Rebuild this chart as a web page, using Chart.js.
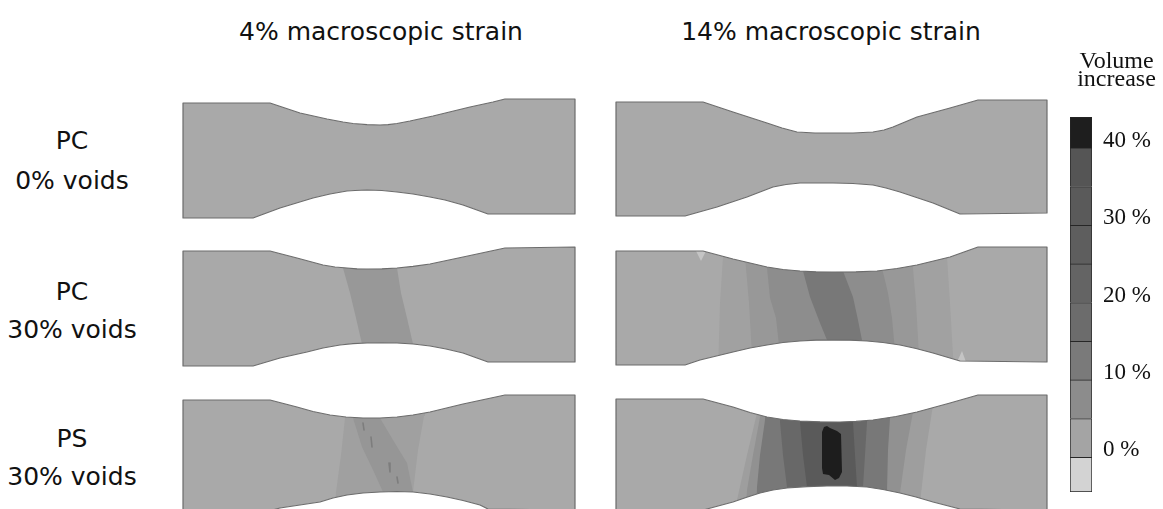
<!DOCTYPE html>
<html>
<head>
<meta charset="utf-8">
<script src="https://cdn.jsdelivr.net/npm/chart.js@4.4.1/dist/chart.umd.min.js"></script>
<style>
  html, body { margin: 0; padding: 0; background: #fff; overflow: hidden; }
  #fig { position: relative; width: 1163px; height: 509px; overflow: hidden; background: #fff; }
  #fig canvas { position: absolute; }
  .lbl { position: absolute; font-family: "DejaVu Sans", sans-serif; font-size: 25px; line-height: 25px;
         color: #111; white-space: nowrap; text-align: center; }
</style>
</head>
<body>
<div id="fig"></div>
<script>
// ---- headings ----
const columnTitles = ['4% macroscopic strain', '14% macroscopic strain'];
const rowMaterials = ['PC', 'PC', 'PS'];
const rowPorosity  = ['0% voids', '30% voids', '30% voids'];

// ---- volume-increase colour scale (%) ----
const scaleEdges  = [-4.5, 0, 5, 10, 15, 20, 25, 30, 35, 40, 44];
const scaleTicks  = [0, 10, 20, 30, 40];
const scaleTitle  = ['Volume', 'increase'];

// ---- specimen outlines (mesh units along / across the bar) ----
// PC, 0% voids
const pc0Strain4Top     = [[0,8],[87,8],[117,18],[144,24],[160,27],[170,28.5],[184,29.7],[197,30],[205,29.6],[214,28.5],[227,26],[250,21],[287,12],[310,7],[322,4],[392,4]];
const pc0Strain4Bottom  = [[392,119],[305,119],[280,110],[262,105],[247,102],[230,99],[214,97],[199,95.5],[184,95],[172,95.5],[164,96],[147,99],[130,103],[97,113],[70,123],[0,123]];
const pc0Strain14Top    = [[0,7],[87,7],[117,17],[151,28],[166,33],[181,37],[199,38],[217,38],[237,38],[257,37],[268,35],[277,32],[301,22],[334,13],[362,5],[431,5]];
const pc0Strain14Bottom = [[431,118],[344,119],[317,108],[284,97],[270,93],[257,90],[237,88.5],[217,88],[200,88],[184,88],[170,89.5],[157,92],[131,102],[101,112],[69,121],[0,121]];
// PC, 30% voids
const pc30Strain4Top     = [[0,8],[87,8],[114,15],[140,22],[152,24],[164,25],[174,25.8],[184,26],[199,25.8],[214,25],[230,23.3],[247,21],[280,14],[322,5],[392,4]];
const pc30Strain4Bottom  = [[392,119],[305,119],[280,110],[263,106],[247,103],[230,101],[214,100],[199,99.8],[184,100],[170,100.6],[157,102],[140,105],[124,109],[97,115],[70,123],[0,123]];
const pc30Strain14Top    = [[0,8],[87,8],[117,16],[134,20],[151,24],[167,26.5],[184,28],[200,28.8],[217,29],[240,28.8],[261,28],[281,25.5],[301,22],[334,14],[362,4],[431,4]];
const pc30Strain14Bottom = [[431,119],[344,118],[317,110],[300,105.5],[284,102],[267,99.5],[251,98],[234,97.2],[217,97],[200,97.2],[184,98],[167,99.5],[151,102],[134,105],[117,109],[84,117],[69,122],[0,122]];
// PS, 30% voids
const ps30Strain4Top     = [[0,10],[87,10],[114,17],[130,21.5],[147,25],[163,27],[180,28],[197,28],[214,27],[230,25],[247,22],[280,14],[322,5],[392,5]];
const ps30Strain4Bottom  = [[392,120],[305,119],[297,115],[280,110.5],[264,107],[247,104],[230,102],[214,101.5],[197,102],[180,103],[164,105],[150,108],[137,112],[97,118],[70,125],[0,125]];
const ps30Strain14Top    = [[0,9],[87,9],[117,17],[134,22.5],[151,27],[167,29.5],[184,31],[204,31.8],[224,32],[240,31.4],[257,30],[280,26.5],[301,22],[334,13],[362,5],[431,5]];
const ps30Strain14Bottom = [[431,120],[344,119],[317,112],[300,107],[284,103],[267,99.5],[251,97],[231,96],[211,96],[191,96.6],[171,98],[157,100],[144,103],[130,107.5],[117,112],[91,119],[69,125],[0,125]];

// ---- volume-increase contour bands: level (%) and band outline ----
const pc30Strain4Bands = [
  { level: 6, outline: [[157,10],[160,25],[167,50],[173,75],[179,101],[181,115],[233,115],[230,101],[224,75],[218,50],[214,25],[212,10]] }
];
const pc30Strain14Bands = [
  { level: 3,  outline: [[107,0],[107,14],[104,60],[102,130],[338,130],[334,60],[331,14],[331,0]] },
  { level: 6,  outline: [[129,0],[129,14],[133,60],[137,130],[304,130],[300,60],[296,14],[296,0]] },
  { level: 9,  outline: [[151,0],[151,25],[154,55],[160,75],[166,130],[281,130],[276,75],[272,50],[266,25],[266,0]] },
  { level: 13, outline: [[185,0],[187,28],[194,54],[204,80],[211,97],[213,130],[247,130],[246,97],[242,77],[237,54],[227,28],[225,0]] },
  { level: -3, outline: [[80,8],[90,8],[85,18]] },
  { level: -3, outline: [[341,119],[350,119],[346,108]] }
];
const ps30Strain4Bands = [
  { level: 3.5, outline: [[163,15],[162,28],[158,65],[153,102],[152,125],[229,125],[230,102],[235,60],[241,26],[242,15]] },
  { level: 6.5, outline: [[169,15],[170,28],[179,57],[190,80],[200,102],[202,125],[231,125],[230,102],[224,73],[210,50],[197,28],[194,15]] }
];
const ps30Strain4Marks = [
  { level: 12, outline: [[180,33],[181,40]] },
  { level: 12, outline: [[188,47],[189,57]] },
  { level: 12, outline: [[206,73],[207,82]] },
  { level: 12, outline: [[214,87],[215,93]] }
];
const ps30Strain14Bands = [
  { level: 4,  outline: [[141,0],[141,23],[131,65],[121,110],[119,130],[303,130],[304,113],[310,60],[317,15],[318,0]] },
  { level: 8,  outline: [[145,0],[144,27],[137,65],[131,100],[129,130],[285,130],[284,103],[290,60],[297,22],[298,0]] },
  { level: 13, outline: [[150,0],[149,30],[144,65],[141,97],[140,130],[271,130],[271,100],[272,60],[274,28],[275,0]] },
  { level: 18, outline: [[164,0],[164,32],[167,65],[171,97],[172,130],[248,130],[247,97],[249,65],[251,32],[251,0]] },
  { level: 24, outline: [[184,0],[184,32],[187,65],[191,97],[192,130],[241,130],[241,97],[239,65],[237,32],[237,0]] },
  { level: 42, outline: [[206,42],[208,37],[211,36],[214,38],[221,41],[225,44],[226,82],[223,88],[219,90],[213,85],[207,84],[206,78]] }
];

// ---- styling ----
const scaleShades = ['#d3d3d3','#a4a4a4','#8c8c8c','#7a7a7a','#6c6c6c','#646464','#5e5e5e','#5a5a5a','#555555','#1e1e1e'];
const shadeLevels = [-3, 0, 3, 6, 9, 13, 18, 24, 42];
const shadeGrays  = [196, 169, 161, 152, 141, 120, 104, 90, 29];
const layout = {
  colLeft: [183, 616], rowTop: [95, 243, 390], pad: 3, panelHeight: 130,
  titleCenter: [381, 831], titleTop: 19,
  rowCenter: 72, rowLineTops: [[128, 168], [279, 317], [426, 464]],
  bar: { left: 1060, top: 40, width: 103, height: 452 }
};

function grayFor(level) {
  let g = shadeGrays[shadeGrays.length - 1];
  if (level <= shadeLevels[0]) g = shadeGrays[0];
  for (let i = 0; i < shadeLevels.length - 1; i++) {
    if (level >= shadeLevels[i] && level <= shadeLevels[i + 1]) {
      const t = (level - shadeLevels[i]) / (shadeLevels[i + 1] - shadeLevels[i]);
      g = shadeGrays[i] + t * (shadeGrays[i + 1] - shadeGrays[i]);
      break;
    }
  }
  g = Math.round(g);
  return `rgb(${g},${g},${g})`;
}

const fig = document.getElementById('fig');

function addText(text, left, top, width) {
  const d = document.createElement('div');
  d.className = 'lbl';
  d.textContent = text;
  d.style.left = left + 'px';
  d.style.top = top + 'px';
  d.style.width = width + 'px';
  fig.appendChild(d);
}

columnTitles.forEach((t, i) => addText(t, layout.titleCenter[i] - 200, layout.titleTop, 400));
rowMaterials.forEach((m, i) => {
  addText(m, layout.rowCenter - 100, layout.rowLineTops[i][0], 200);
  addText(rowPorosity[i], layout.rowCenter - 100, layout.rowLineTops[i][1], 200);
});

const xy = pts => pts.map(p => ({ x: p[0], y: p[1] }));
const area = (pts, color) => ({
  data: xy(pts), fill: 'shape', backgroundColor: color,
  borderColor: 'transparent', borderWidth: 0, pointRadius: 0, tension: 0
});
const stroke = (pts, color, w) => ({
  data: xy(pts), fill: false, backgroundColor: 'transparent',
  borderColor: color, borderWidth: w, pointRadius: 0, tension: 0,
  borderJoinStyle: 'round', borderCapStyle: 'round'
});

const panels = [
  [ { top: pc0Strain4Top,  bottom: pc0Strain4Bottom,  bands: [] },
    { top: pc0Strain14Top, bottom: pc0Strain14Bottom, bands: [] } ],
  [ { top: pc30Strain4Top,  bottom: pc30Strain4Bottom,  bands: pc30Strain4Bands },
    { top: pc30Strain14Top, bottom: pc30Strain14Bottom, bands: pc30Strain14Bands } ],
  [ { top: ps30Strain4Top,  bottom: ps30Strain4Bottom,  bands: ps30Strain4Bands, marks: ps30Strain4Marks },
    { top: ps30Strain14Top, bottom: ps30Strain14Bottom, bands: ps30Strain14Bands } ]
];

function drawPanel(r, c, spec) {
  const W = spec.top[spec.top.length - 1][0];
  const H = layout.panelHeight, pad = layout.pad;
  const cv = document.createElement('canvas');
  cv.width = W + 2 * pad;
  cv.height = H;
  cv.style.left = (layout.colLeft[c] - pad) + 'px';
  cv.style.top = layout.rowTop[r] + 'px';
  fig.appendChild(cv);

  const body = spec.top.concat(spec.bottom);
  const sets = [];
  sets.push(area(body, grayFor(0)));
  spec.bands.forEach(b => sets.push(area(b.outline, grayFor(b.level))));
  (spec.marks || []).forEach(m => sets.push(stroke(m.outline, grayFor(m.level), 1.6)));
  // white surroundings above and below the specimen edges
  sets.push(area([[0, -6]].concat(spec.top, [[W, -6]]), '#ffffff'));
  sets.push(area([[W, H + 6]].concat(spec.bottom, [[0, H + 6]]), '#ffffff'));
  sets.push(stroke(body.concat([body[0]]), '#6c6c6c', 1.2));
  sets.forEach((d, i) => { d.order = sets.length - i; });

  new Chart(cv, {
    type: 'line',
    data: { datasets: sets },
    options: {
      responsive: false, animation: false, events: [], devicePixelRatio: 1,
      layout: { padding: 0 },
      plugins: { legend: { display: false }, tooltip: { enabled: false }, title: { display: false } },
      scales: {
        x: { type: 'linear', display: false, min: -pad, max: W + pad },
        y: { type: 'linear', display: false, min: 0, max: H, reverse: true }
      }
    }
  });
}

panels.forEach((row, r) => row.forEach((spec, c) => drawPanel(r, c, spec)));

// ---- colour bar ----
(function () {
  const b = layout.bar;
  const cv = document.createElement('canvas');
  cv.width = b.width; cv.height = b.height;
  cv.style.left = b.left + 'px'; cv.style.top = b.top + 'px';
  fig.appendChild(cv);
  const sets = scaleShades.map((col, i) => ({
    data: [[scaleEdges[i], scaleEdges[i + 1]]],
    backgroundColor: col, borderColor: '#262626',
    borderWidth: { top: 1, left: 1, right: 1, bottom: i === 0 ? 1 : 0 },
    borderSkipped: false, grouped: false, barPercentage: 1, categoryPercentage: 1
  }));
  new Chart(cv, {
    type: 'bar',
    data: { labels: [''], datasets: sets },
    options: {
      responsive: false, animation: false, events: [], devicePixelRatio: 1,
      layout: { padding: { left: 10, top: 0, right: 0, bottom: 0 } },
      plugins: {
        legend: { display: false }, tooltip: { enabled: false },
        title: {
          display: true, text: scaleTitle, color: '#111',
          font: { family: 'Liberation Serif', size: 24, weight: 'normal', lineHeight: 0.75 },
          padding: { top: 13, bottom: 28 }
        }
      },
      scales: {
        x: { display: false },
        y: {
          position: 'right', min: scaleEdges[0], max: scaleEdges[scaleEdges.length - 1],
          grid: { display: false, drawTicks: false }, border: { display: false },
          afterBuildTicks: s => { s.ticks = scaleTicks.map(v => ({ value: v })); },
          afterFit: s => { s.width = 71; s.paddingTop = 0; s.paddingBottom = 0; },
          ticks: {
            padding: 11, labelOffset: -7, color: '#111',
            font: { family: 'Liberation Serif', size: 23 },
            callback: v => v + ' %'
          }
        }
      }
    }
  });
})();
</script>
</body>
</html>
